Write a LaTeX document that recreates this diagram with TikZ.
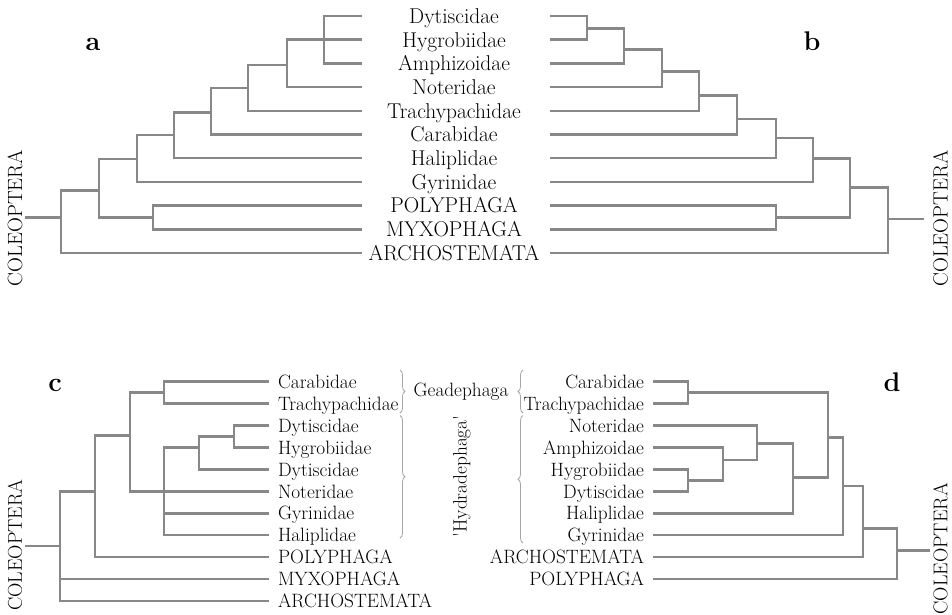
\documentclass[tikz,border=0pt]{standalone}
\usepackage{tikz}
\usetikzlibrary{positioning,decorations.pathreplacing}
\definecolor{treegray}{RGB}{136,136,136}
\definecolor{bracegray}{RGB}{165,165,165}

\begin{document}
\begin{tikzpicture}[
  x=1pt, y=-1pt,
  node distance=9.1pt,
  taxon/.style={inner sep=0pt, outer sep=0pt, text height=14.6pt, text depth=0pt, font=\fontsize{21.4pt}{23pt}\selectfont},
  taxonsm/.style={taxon, text height=13.2pt, font=\fontsize{19.3pt}{21pt}\selectfont},
  cladename/.style={taxon, text height=14pt, rotate=90, font=\fontsize{20.6pt}{22pt}\selectfont},
  cladenamesm/.style={taxon, text height=13.6pt, rotate=90, font=\fontsize{19.9pt}{21pt}\selectfont},
  panel/.style={anchor=base, inner sep=0pt, font=\fontsize{27pt}{29pt}\selectfont\bfseries},
  branch/.style={draw=treegray, line width=2.5pt},
  group/.style={draw=bracegray, line width=0.8pt, decorate, decoration={brace, amplitude=5pt}}
]
  \useasboundingbox (0,0) rectangle (952,614);

  % Taxa shared by trees a and b
  \node[taxon] (Dyt) at (454,16) {Dytiscidae};
  \node[taxon, below=of Dyt] (Hyg) {Hygrobiidae};
  \node[taxon, below=of Hyg] (Amph) {Amphizoidae};
  \node[taxon, below=of Amph] (Not) {Noteridae};
  \node[taxon, below=of Not] (Tra) {Trachypachidae};
  \node[taxon, below=of Tra] (Car) {Carabidae};
  \node[taxon, below=of Car] (Hal) {Haliplidae};
  \node[taxon, below=of Hal] (Gyr) {Gyrinidae};
  \node[taxon, below=of Gyr] (Poly) {POLYPHAGA};
  \node[taxon, below=of Poly] (Myxo) {MYXOPHAGA};
  \node[taxon, below=of Myxo] (Arch) {ARCHOSTEMATA};

  % Tree a
  \node[panel] (pa) at (93,50.7) {a};
  \node[cladename] (colA) at (15,218) {COLEOPTERA};
  \coordinate (aEnd) at (362,0);
  \coordinate (a1) at (324,39.7);
  \coordinate (a2) at (287,65);
  \coordinate (a3) at (248,88);
  \coordinate (a4) at (211,112.5);
  \coordinate (a5) at (174,135);
  \coordinate (a6) at (137,159);
  \coordinate (a7) at (153,217.5);
  \coordinate (a8) at (99,190.5);
  \coordinate (a9) at (61,217.5);
  \coordinate (a0) at (25,217.5);
  \draw[branch] (a1) |- (Dyt -| aEnd);
  \draw[branch] (a1) |- (Hyg -| aEnd);
  \draw[branch] (a1) |- (Amph -| aEnd);
  \draw[branch] (a2) |- (a1);
  \draw[branch] (a2) |- (Not -| aEnd);
  \draw[branch] (a3) |- (a2);
  \draw[branch] (a3) |- (Tra -| aEnd);
  \draw[branch] (a4) |- (a3);
  \draw[branch] (a4) |- (Car -| aEnd);
  \draw[branch] (a5) |- (a4);
  \draw[branch] (a5) |- (Hal -| aEnd);
  \draw[branch] (a6) |- (a5);
  \draw[branch] (a6) |- (Gyr -| aEnd);
  \draw[branch] (a7) |- (Poly -| aEnd);
  \draw[branch] (a7) |- (Myxo -| aEnd);
  \draw[branch] (a8) |- (a6);
  \draw[branch] (a8) |- (a7);
  \draw[branch] (a9) |- (a8);
  \draw[branch] (a9) |- (Arch -| aEnd);
  \draw[branch] (a0) -- (a9);

  % Tree b
  \node[panel] (pb) at (812,50.7) {b};
  \node[cladename] (colB) at (940.5,218.5) {COLEOPTERA};
  \coordinate (bEnd) at (550,0);
  \coordinate (b1) at (587,28.5);
  \coordinate (b2) at (624,49.3);
  \coordinate (b3) at (662,71.7);
  \coordinate (b4) at (699,95.7);
  \coordinate (b5) at (737,119);
  \coordinate (b6) at (776,138);
  \coordinate (b7) at (813,158.7);
  \coordinate (b8) at (776,217.5);
  \coordinate (b9) at (850,187.3);
  \coordinate (b10) at (888,219);
  \coordinate (b0) at (924,219);
  \draw[branch] (b1) |- (Dyt -| bEnd);
  \draw[branch] (b1) |- (Hyg -| bEnd);
  \draw[branch] (b2) |- (b1);
  \draw[branch] (b2) |- (Amph -| bEnd);
  \draw[branch] (b3) |- (b2);
  \draw[branch] (b3) |- (Not -| bEnd);
  \draw[branch] (b4) |- (b3);
  \draw[branch] (b4) |- (Tra -| bEnd);
  \draw[branch] (b5) |- (b4);
  \draw[branch] (b5) |- (Car -| bEnd);
  \draw[branch] (b6) |- (b5);
  \draw[branch] (b6) |- (Hal -| bEnd);
  \draw[branch] (b7) |- (b6);
  \draw[branch] (b7) |- (Gyr -| bEnd);
  \draw[branch] (b8) |- (Poly -| bEnd);
  \draw[branch] (b8) |- (Myxo -| bEnd);
  \draw[branch] (b9) |- (b7);
  \draw[branch] (b9) |- (b8);
  \draw[branch] (b10) |- (b9);
  \draw[branch] (b10) |- (Arch -| bEnd);
  \draw[branch] (b0) -- (b10);

  % Tree c
  \node[panel] (pc) at (55,391.7) {c};
  \node[cladenamesm] (colC) at (15,545) {COLEOPTERA};
  \node[taxonsm, anchor=west] (cCar) at (278,381.7) {Carabidae};
  \node[taxonsm, anchor=west] (cTra) at (278,403.6) {Trachypachidae};
  \node[taxonsm, anchor=west] (cDyt) at (278,425.6) {Dytiscidae};
  \node[taxonsm, anchor=west] (cHyg) at (278,447.5) {Hygrobiidae};
  \node[taxonsm, anchor=west] (cDytb) at (278,469.4) {Dytiscidae};
  \node[taxonsm, anchor=west] (cNot) at (278,491.4) {Noteridae};
  \node[taxonsm, anchor=west] (cGyr) at (278,513.3) {Gyrinidae};
  \node[taxonsm, anchor=west] (cHal) at (278,535.2) {Haliplidae};
  \node[taxonsm, anchor=west] (cPoly) at (278,557.1) {POLYPHAGA};
  \node[taxonsm, anchor=west] (cMyxo) at (278,579.1) {MYXOPHAGA};
  \node[taxonsm, anchor=west] (cArch) at (278,601) {ARCHOSTEMATA};
  \coordinate (cEnd) at (269,0);
  \coordinate (c1) at (164,392.6);
  \coordinate (c2) at (234,436.6);
  \coordinate (c3) at (199,447.5);
  \coordinate (c4) at (164,491.4);
  \coordinate (c5) at (130,435.7);
  \coordinate (c6) at (95,491.4);
  \coordinate (c7) at (60,546);
  \coordinate (c0) at (25,546);
  \draw[branch] (c1) |- (cCar -| cEnd);
  \draw[branch] (c1) |- (cTra -| cEnd);
  \draw[branch] (c2) |- (cDyt -| cEnd);
  \draw[branch] (c2) |- (cHyg -| cEnd);
  \draw[branch] (c3) |- (c2);
  \draw[branch] (c3) |- (cDytb -| cEnd);
  \draw[branch] (c4) |- (c3);
  \draw[branch] (c4) |- (cNot -| cEnd);
  \draw[branch] (c4) |- (cGyr -| cEnd);
  \draw[branch] (c4) |- (cHal -| cEnd);
  \draw[branch] (c5) |- (c1);
  \draw[branch] (c5) |- (c4);
  \draw[branch] (c6) |- (c5);
  \draw[branch] (c6) |- (cPoly -| cEnd);
  \draw[branch] (c7) |- (c6);
  \draw[branch] (c7) |- (cMyxo -| cEnd);
  \draw[branch] (c7) |- (cArch -| cEnd);
  \draw[branch] (c0) -- (c7);

  % Tree d
  \node[panel] (pd) at (892,391.7) {d};
  \node[cladenamesm, anchor=east] (colD) at (940.5,483) {COLEOPTERA};
  \node[taxonsm, anchor=east] (dCar) at (644,381.7) {Carabidae};
  \node[taxonsm, anchor=east] (dTra) at (644,403.6) {Trachypachidae};
  \node[taxonsm, anchor=east] (dNot) at (644,425.6) {Noteridae};
  \node[taxonsm, anchor=east] (dAmph) at (644,447.5) {Amphizoidae};
  \node[taxonsm, anchor=east] (dHyg) at (644,469.4) {Hygrobiidae};
  \node[taxonsm, anchor=east] (dDyt) at (644,491.4) {Dytiscidae};
  \node[taxonsm, anchor=east] (dHal) at (644,513.3) {Haliplidae};
  \node[taxonsm, anchor=east] (dGyr) at (644,535.2) {Gyrinidae};
  \node[taxonsm, anchor=east] (dArch) at (644,557.1) {ARCHOSTEMATA};
  \node[taxonsm, anchor=east] (dPoly) at (644,579.1) {POLYPHAGA};
  \coordinate (dEnd) at (653,0);
  \coordinate (d1) at (688,392.6);
  \coordinate (d2) at (688,480.4);
  \coordinate (d3) at (723,460);
  \coordinate (d4) at (757,443.3);
  \coordinate (d5) at (793,477.3);
  \coordinate (d6) at (828,437.3);
  \coordinate (d7) at (843,486);
  \coordinate (d8) at (863,528.3);
  \coordinate (d9) at (897,550.7);
  \coordinate (d0) at (930,550.7);
  \draw[branch] (d1) |- (dCar -| dEnd);
  \draw[branch] (d1) |- (dTra -| dEnd);
  \draw[branch] (d2) |- (dHyg -| dEnd);
  \draw[branch] (d2) |- (dDyt -| dEnd);
  \draw[branch] (d3) |- (dAmph -| dEnd);
  \draw[branch] (d3) |- (d2);
  \draw[branch] (d4) |- (dNot -| dEnd);
  \draw[branch] (d4) |- (d3);
  \draw[branch] (d5) |- (d4);
  \draw[branch] (d5) |- (dHal -| dEnd);
  \draw[branch] (d6) |- (d1);
  \draw[branch] (d6) |- (d5);
  \draw[branch] (d7) |- (d6);
  \draw[branch] (d7) |- (dGyr -| dEnd);
  \draw[branch] (d8) |- (d7);
  \draw[branch] (d8) |- (dArch -| dEnd);
  \draw[branch] (d9) |- (d8);
  \draw[branch] (d9) |- (dPoly -| dEnd);
  \draw[branch] (d0) -- (d9);

  % Groups between c and d
  \node[taxonsm] (geo) at (461,390) {Geadephaga};
  \node[taxonsm, rotate=90] (hyd) at (460,476.5) {\textquotesingle Hydradephaga\textquotesingle};
  \coordinate (gcTop) at (400,370);
  \coordinate (gcBot) at (400,413);
  \coordinate (hcTop) at (400,415.5);
  \coordinate (hcBot) at (400,538);
  \coordinate (gdTop) at (523,370);
  \coordinate (gdBot) at (523,413);
  \coordinate (hdTop) at (523,415.5);
  \coordinate (hdBot) at (523,543);
  \draw[group] (gcTop) -- (gcBot);
  \draw[group] (hcTop) -- (hcBot);
  \draw[group] (gdBot) -- (gdTop);
  \draw[group] (hdBot) -- (hdTop);
\end{tikzpicture}
\end{document}
